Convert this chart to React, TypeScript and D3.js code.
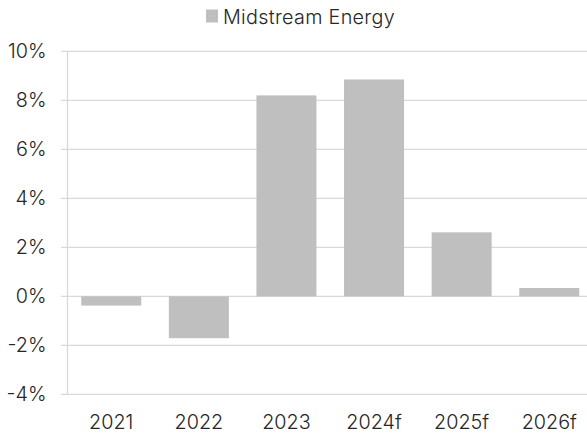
import React, { useRef, useEffect } from 'react';
import * as d3 from 'd3';

const categories = ['2021', '2022', '2023', '2024f', '2025f', '2026f'];
const values = [-0.38, -1.71, 8.2, 8.85, 2.61, 0.34];
const yTicks = [-4, -2, 0, 2, 4, 6, 8, 10];
const seriesName = 'Midstream Energy';

const W = 587;
const H = 436;

const App: React.FC = () => {
    const svgRef = useRef<SVGSVGElement | null>(null);

    useEffect(() => {
        if (!svgRef.current) return;
        const svg = d3.select(svgRef.current);
        svg.selectAll('*').remove();

        const font = 'Inter, Roboto, sans-serif';
        const textColor = '#262626';
        const fontSize = 19.8;

        const x = d3.scaleBand()
            .domain(categories)
            .range([67.5, 593])
            .paddingInner(0.315)
            .paddingOuter(0.157);

        const y = d3.scaleLinear()
            .domain([-4, 10])
            .range([394.3, 51.3]);

        // gridlines
        svg.append('g')
            .selectAll('line')
            .data(yTicks)
            .enter().append('line')
            .attr('x1', 61)
            .attr('x2', W)
            .attr('y1', d => y(d))
            .attr('y2', d => y(d))
            .attr('stroke', '#d9d9d9')
            .attr('stroke-width', 1.3);

        // y axis line
        svg.append('line')
            .attr('x1', 67.5).attr('x2', 67.5)
            .attr('y1', y(10)).attr('y2', y(-4))
            .attr('stroke', '#d9d9d9')
            .attr('stroke-width', 1.3);

        // bars
        svg.append('g')
            .selectAll('rect')
            .data(values)
            .enter().append('rect')
            .attr('x', (d, i) => x(categories[i]) || 0)
            .attr('width', x.bandwidth())
            .attr('y', d => y(Math.max(0, d)))
            .attr('height', d => Math.abs(y(d) - y(0)))
            .attr('fill', '#bfbfbf');

        // y tick labels
        svg.append('g')
            .selectAll('text')
            .data(yTicks)
            .enter().append('text')
            .attr('x', 46.5)
            .attr('y', d => y(d))
            .attr('dy', '0.35em')
            .attr('text-anchor', 'end')
            .attr('font-family', font)
            .attr('font-weight', 300)
            .attr('font-size', fontSize)
            .attr('fill', textColor)
            .text(d => d + '%');

        // x labels
        svg.append('g')
            .selectAll('text')
            .data(categories)
            .enter().append('text')
            .attr('x', d => (x(d) || 0) + x.bandwidth() / 2)
            .attr('y', 429)
            .attr('text-anchor', 'middle')
            .attr('font-family', font)
            .attr('font-weight', 300)
            .attr('font-size', fontSize)
            .attr('fill', textColor)
            .text(d => d);

        // legend
        const legend = svg.append('g');
        legend.append('rect')
            .attr('x', 206).attr('y', 9.5)
            .attr('width', 12).attr('height', 13)
            .attr('fill', '#bfbfbf');
        legend.append('text')
            .attr('x', 223)
            .attr('y', 23.5)
            .attr('font-family', font)
            .attr('font-weight', 300)
            .attr('font-size', fontSize)
            .attr('letter-spacing', 0.3)
            .attr('fill', textColor)
            .text(seriesName);
    }, []);

    return (
        <svg ref={svgRef} width={W} height={H}
            style={{ position: 'absolute', left: 0, top: 0, display: 'block', background: '#fff' }} />
    );
};

export default App;
